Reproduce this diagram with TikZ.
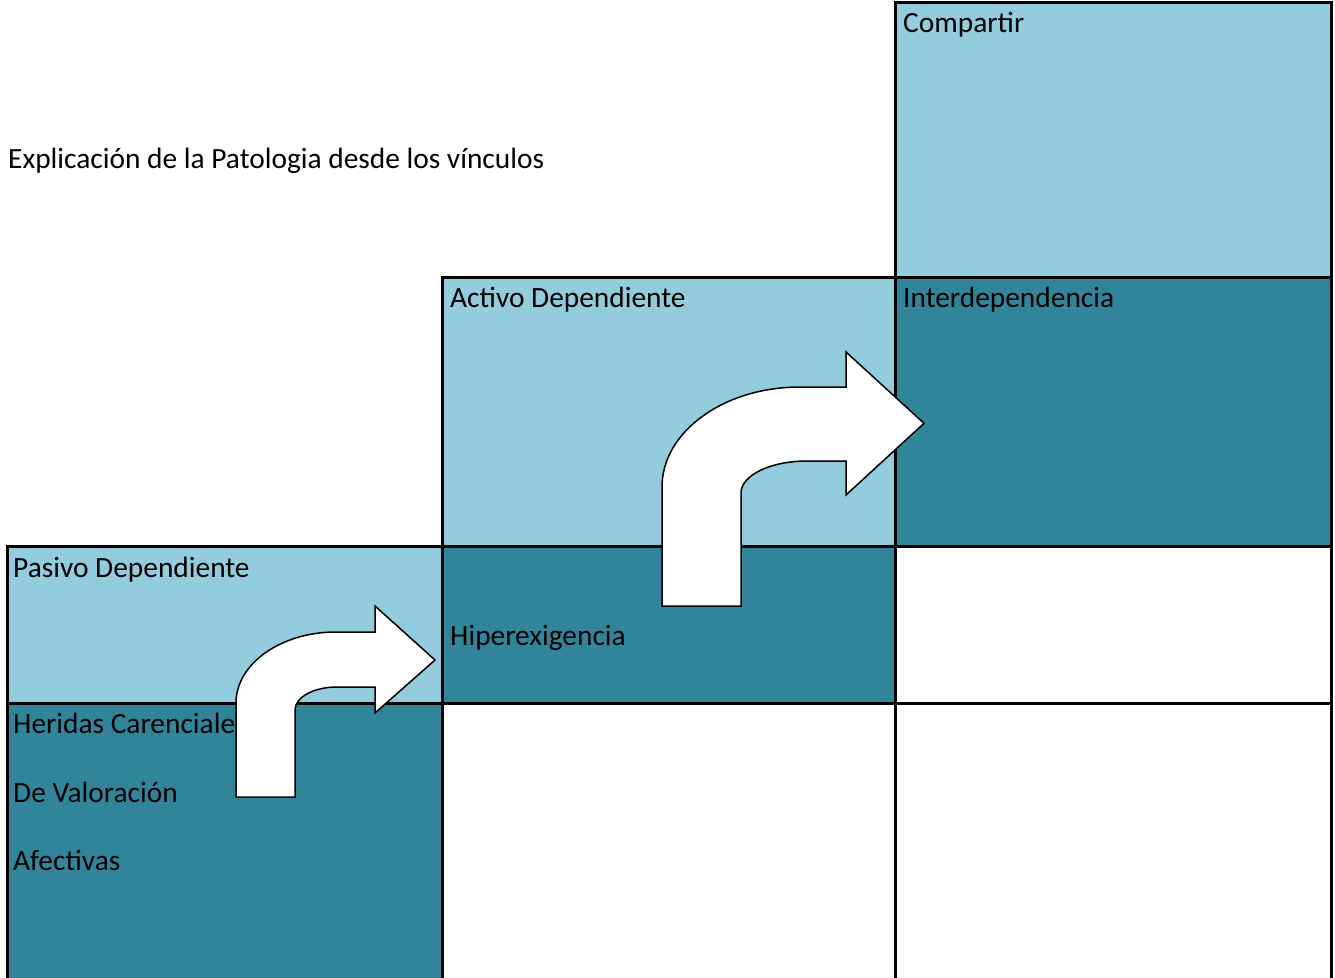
\documentclass[tikz,border=0pt]{standalone}
\usepackage{fontspec}
\setmainfont{Carlito}
\definecolor{lightcell}{RGB}{147,205,221}
\definecolor{darkcell}{RGB}{49,133,155}
\begin{document}
\begin{tikzpicture}[x=1pt,y=-1pt,
  cell/.style={draw=black, line width=3pt, inner sep=0pt, rectangle},
  lbl/.style={anchor=base west, inner sep=0pt, font=\fontsize{29.4}{34}\selectfont, text=black},
  bentarrow/.style={draw=black, fill=white, line width=1.5pt, line join=miter}]
\useasboundingbox (0,0) rectangle (1335,977);
\clip (0,0) rectangle (1335,977);
% cells
\node[cell, fill=lightcell, minimum width=436pt, minimum height=275pt] (compartir) at (1113,139.5) {};
\node[cell, fill=darkcell, minimum width=436pt, minimum height=269pt] (interdep) at (1113,411.5) {};
\node[cell, fill=lightcell, minimum width=453pt, minimum height=269pt] (activo) at (668.5,411.5) {};
\node[cell, fill=darkcell, minimum width=453pt, minimum height=157pt] (hiper) at (668.5,624.5) {};
\node[cell, fill=white, minimum width=436pt, minimum height=157pt] (empty1) at (1113,624.5) {};
\node[cell, fill=lightcell, minimum width=435pt, minimum height=157pt] (pasivo) at (224.5,624.5) {};
\node[cell, fill=darkcell, minimum width=435pt, minimum height=287pt] (heridas) at (224.5,846.5) {};
\node[cell, fill=white, minimum width=453pt, minimum height=287pt] (empty2) at (668.5,846.5) {};
\node[cell, fill=white, minimum width=436pt, minimum height=287pt] (empty3) at (1113,846.5) {};
% labels
\node[lbl] (title) at (8,168) {Explicación de la Patologia desde los vínculos};
\node[lbl] (tcompartir) at (903,32) {Compartir};
\node[lbl] (tinter) at (903,307) {Interdependencia};
\node[lbl] (tactivo) at (450,307) {Activo Dependiente};
\node[lbl] (tpasivo) at (13,577) {Pasivo Dependiente};
\node[lbl] (thiper) at (450,645) {Hiperexigencia};
\node[lbl] (therid) at (13,733) {Heridas Carenciales};
\node[lbl] (tvalor) at (13,802) {De Valoración};
\node[lbl] (tafect) at (13,870) {Afectivas};
% small bent arrow
\draw[bentarrow] (236,797) -- (236,703)
  .. controls (236,663.8) and (280.8,632) .. (336,632)
  -- (375,632) -- (375,606) -- (435,660) -- (375,713) -- (375,687) -- (337,687)
  .. controls (313.8,687) and (295,697.3) .. (295,710)
  -- (295,797) -- cycle;
% large bent arrow
\draw[bentarrow] (662,606) -- (662,487)
  .. controls (662,431.8) and (723.8,387) .. (800,387)
  -- (846,387) -- (846,352) -- (924,423.3) -- (846,495) -- (846,461) -- (807,461)
  .. controls (770.5,461) and (741,475.3) .. (741,493)
  -- (741,606) -- cycle;
\end{tikzpicture}
\end{document}
